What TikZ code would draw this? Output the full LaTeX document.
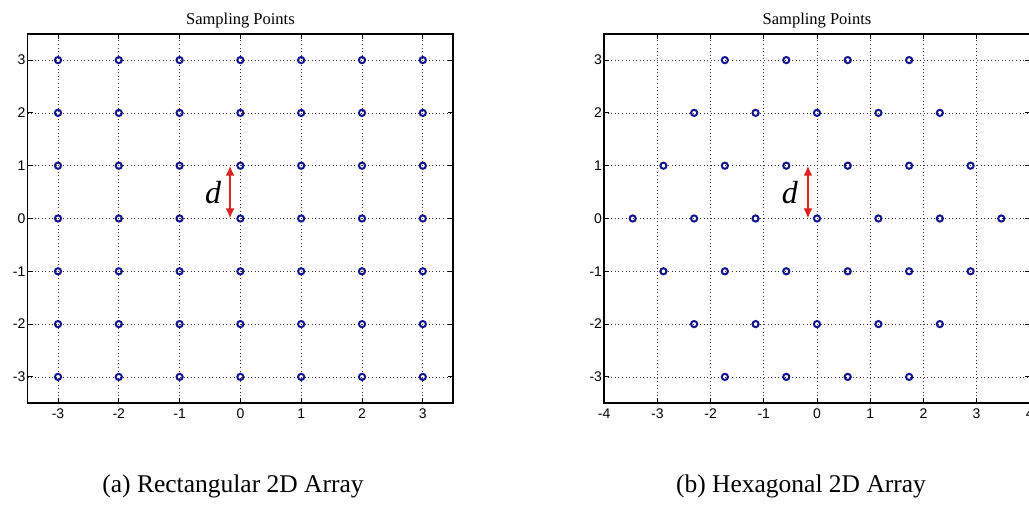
\documentclass[tikz,border=0pt]{standalone}
\usepackage{fontspec}
\setmainfont{Liberation Serif}
\newfontfamily\axisfont{Liberation Sans}
\usetikzlibrary{arrows.meta}

\definecolor{navy}{RGB}{20,20,140}
\definecolor{arrowred}{RGB}{222,32,32}

\begin{document}
\begin{tikzpicture}[
        x=1pt, y=1pt,
        frame/.style={line width=1.7pt, black},
        gridline/.style={black!80, line width=0.75pt, dash pattern=on 0.75pt off 2.8pt},
        axtick/.style={line width=1pt, black},
        sample/.style={navy, line width=2pt},
        ticklabel/.style={font=\axisfont\fontsize{14}{14}\selectfont, inner sep=1pt},
        title/.style={font=\fontsize{16.5}{16.5}\selectfont, anchor=base},
        caption/.style={font=\fontsize{25.5}{26}\selectfont, anchor=base},
        spacing/.style={arrowred, line width=2.4pt, {Latex[length=10pt,width=9pt]}-{Latex[length=10pt,width=9pt]}},
        dlabel/.style={font=\itshape\fontsize{32}{32}\selectfont}
    ]
    \useasboundingbox (0,0) rectangle (1029,514);

    % Left diagram - rectangular array
    \begin{scope}[shift={(240.4,295.5)}, x=60.8pt, y=52.8pt]
        \foreach \i in {-3,...,3} {
            \draw[gridline] (\i,-3.5) -- (\i,3.5);
            \draw[gridline] (-3.5,\i) -- (3.5,\i);
            \draw[axtick] (\i,-3.5) -- ++(0,5pt);
            \draw[axtick] (\i,3.5) -- ++(0,-5pt);
            \draw[axtick] (-3.5,\i) -- ++(5pt,0);
            \draw[axtick] (3.5,\i) -- ++(-5pt,0);
            \node[ticklabel, anchor=north] at ([yshift=-4pt]\i,-3.5) {\i};
            \node[ticklabel, anchor=east] at ([xshift=-1pt]-3.5,\i) {\i};
        }
        \foreach \i in {-3,...,3}
            \foreach \j in {-3,...,3}
                \draw[sample] (\i,\j) circle[radius=3.1pt];
        \draw[frame] (-3.5,-3.5) rectangle (3.5,3.5);
        \node[title] (titleA) at ([yshift=9pt]0,3.5) {Sampling Points};
        \coordinate (dTopA) at (-0.17,1);
        \coordinate (dBotA) at (-0.17,0);
        \draw[spacing] (dTopA) -- (dBotA);
        \node[dlabel] (dA) at (-0.45,0.5) {d};
    \end{scope}

    % Right diagram - hexagonal array
    \begin{scope}[shift={(817,295.5)}, x=53.2pt, y=52.8pt]
        \foreach \i in {-3,...,3} {
            \draw[gridline] (\i,-3.5) -- (\i,3.5);
            \draw[gridline] (-4,\i) -- (4,\i);
            \draw[axtick] (\i,-3.5) -- ++(0,5pt);
            \draw[axtick] (\i,3.5) -- ++(0,-5pt);
            \draw[axtick] (-4,\i) -- ++(5pt,0);
            \draw[axtick] (4,\i) -- ++(-5pt,0);
            \node[ticklabel, anchor=east] at ([xshift=-1pt]-4,\i) {\i};
        }
        \foreach \i in {-4,...,4}
            \node[ticklabel, anchor=north] at ([yshift=-4pt]\i,-3.5) {\i};
        \foreach \j in {-3,...,3} {
            \pgfmathtruncatemacro\nmax{6-abs(\j)}
            \foreach \k in {0,...,\nmax}
                \draw[sample] ({(\k-\nmax/2)*1.1547},\j) circle[radius=3.1pt];
        }
        \draw[frame] (-4,-3.5) rectangle (4,3.5);
        \node[title] (titleB) at ([yshift=9pt]0,3.5) {Sampling Points};
        \coordinate (dTopB) at (-0.17,1);
        \coordinate (dBotB) at (-0.17,0);
        \draw[spacing] (dTopB) -- (dBotB);
        \node[dlabel] (dB) at (-0.51,0.5) {d};
    \end{scope}

    % captions
    \node[caption] (capA) at (233,21) {(a) Rectangular 2D Array};
    \node[caption] (capB) at (801,21) {(b) Hexagonal 2D Array};
\end{tikzpicture}
\end{document}
